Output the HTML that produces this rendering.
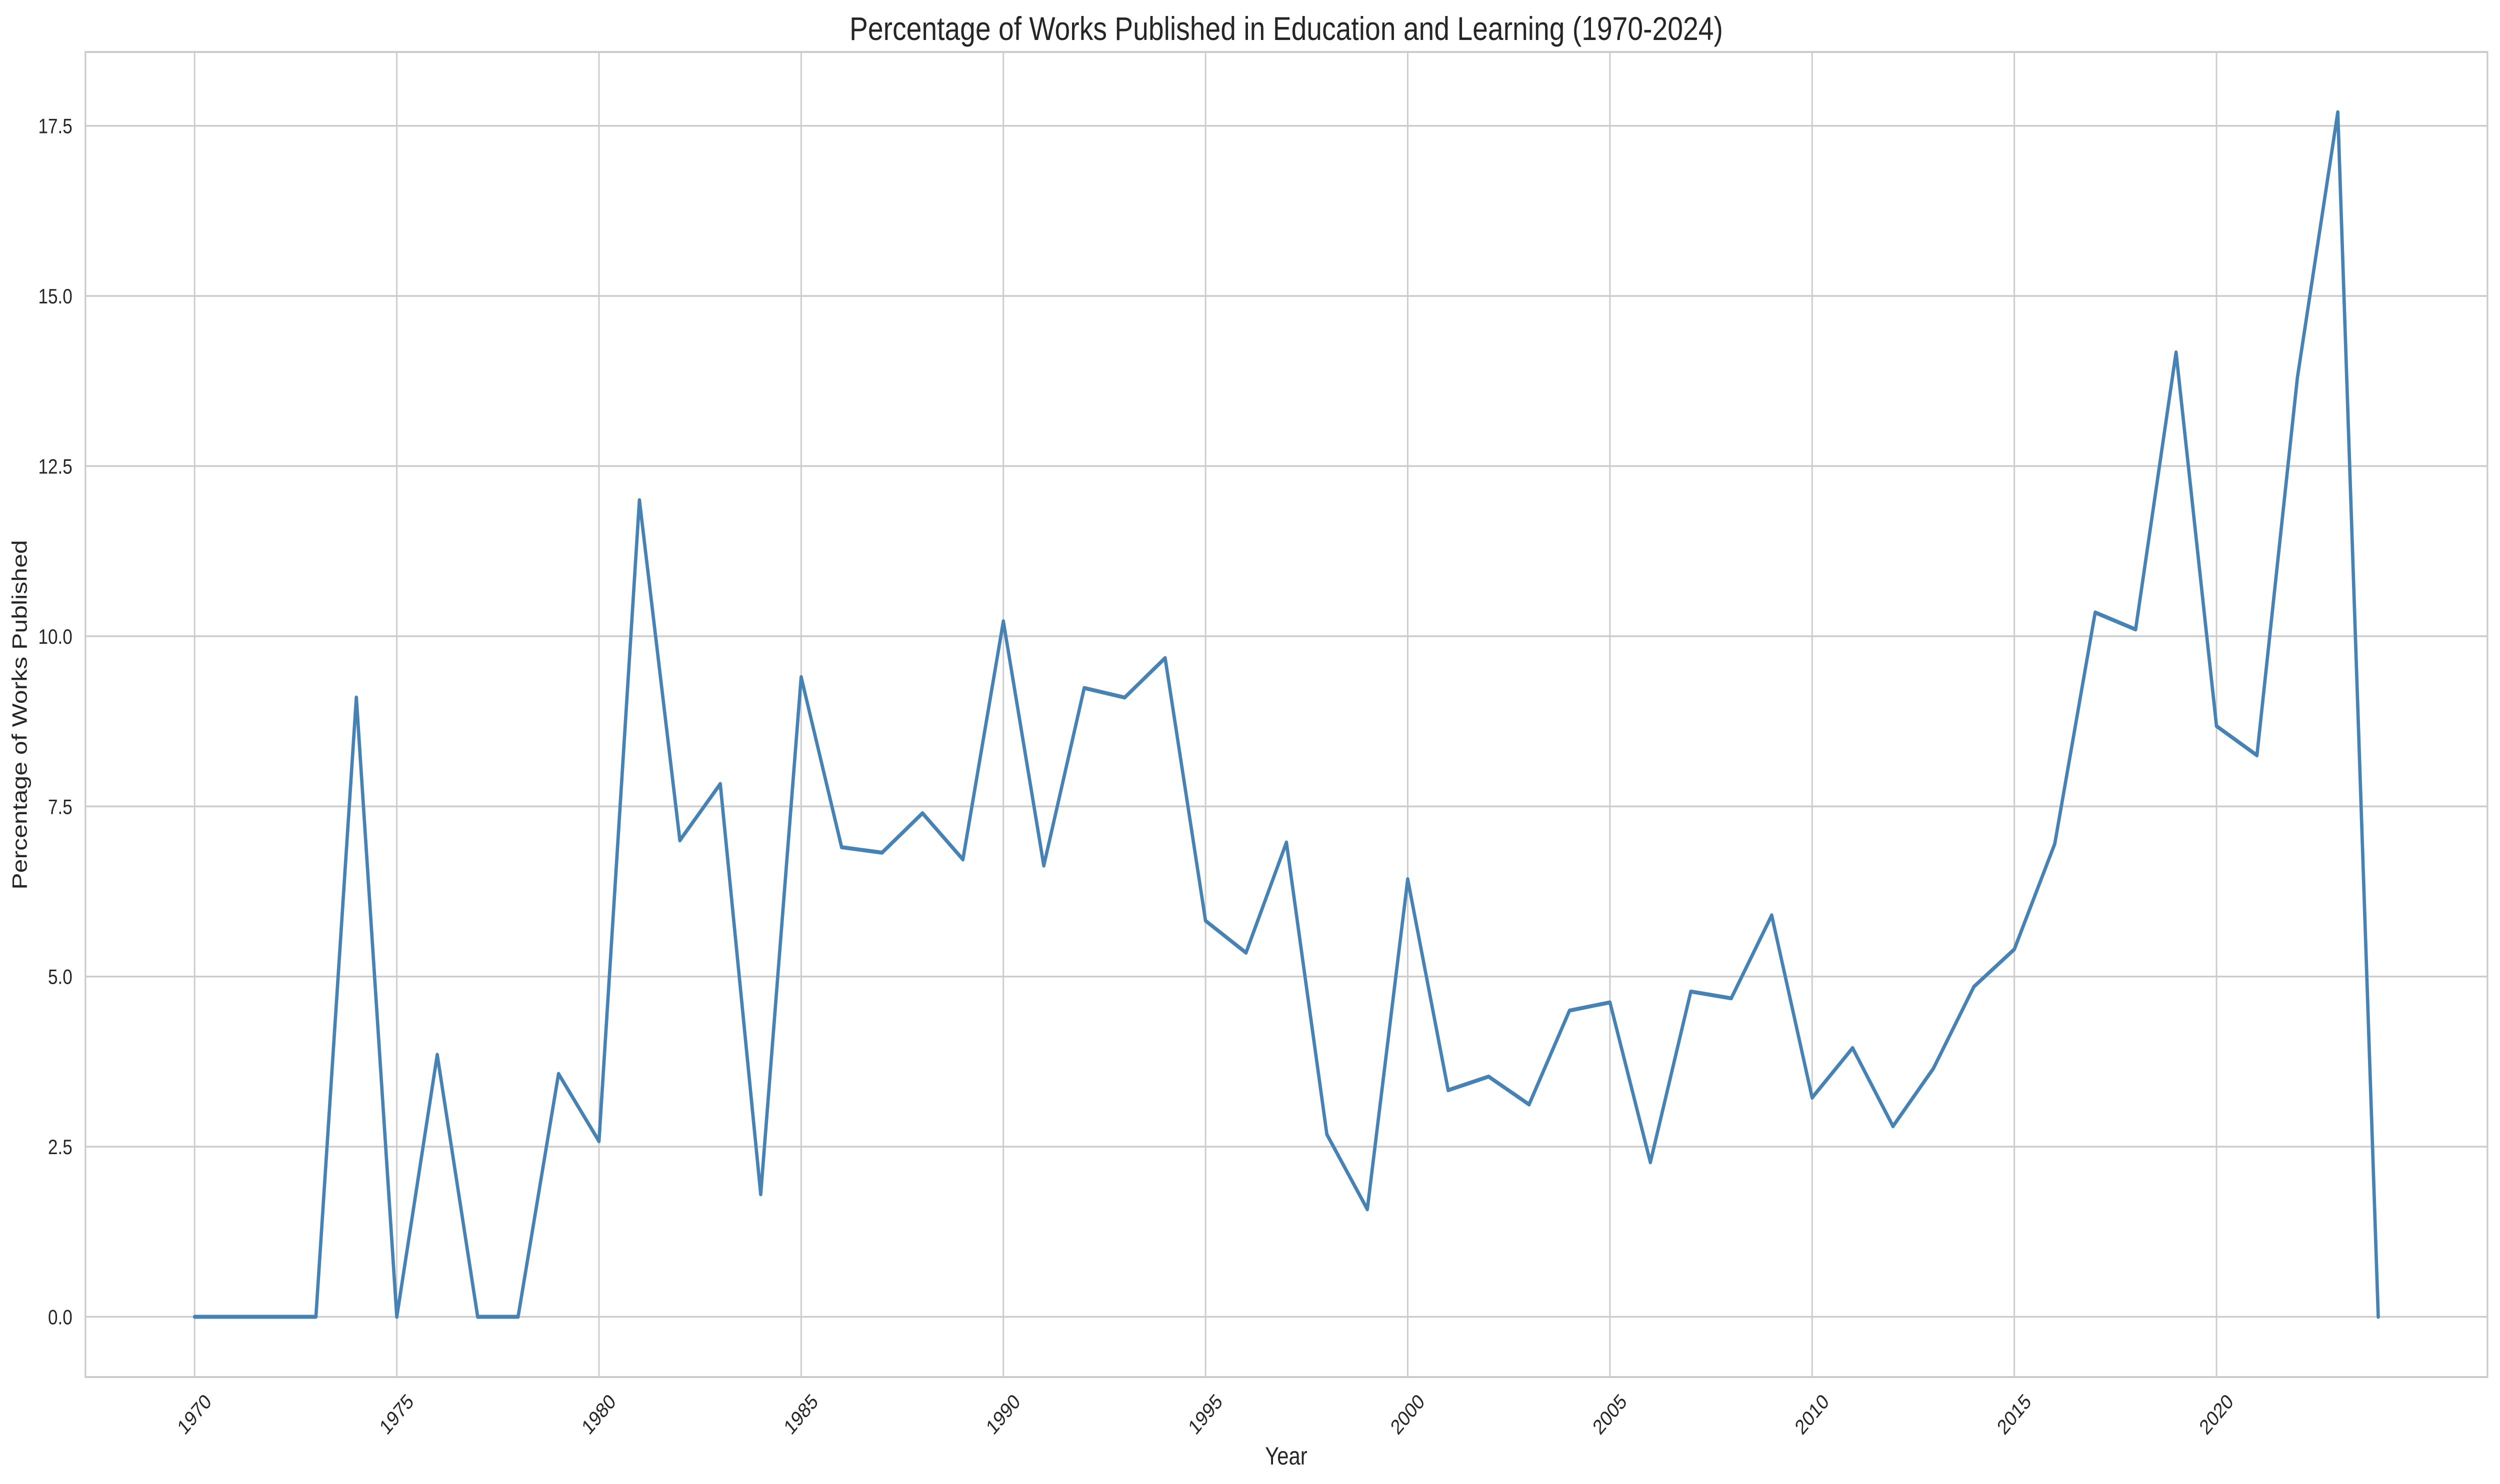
<!DOCTYPE html>
<html>
<head>
<meta charset="utf-8">
<meta name="viewport" content="width=5971, height=2969, initial-scale=1">
<style>
  html, body { margin: 0; padding: 0; background: #ffffff; width: 100%; height: 100%; overflow: hidden; }
  svg { display: block; position: fixed; left: 0; top: 0; width: 100vw; height: 100vh; }
  text { font-family: "Liberation Sans", Arial, sans-serif; fill: #262626; }
</style>
</head>
<body>
<svg id="chart" viewBox="0 0 5971 2969" preserveAspectRatio="none" xmlns="http://www.w3.org/2000/svg">
  <rect x="0" y="0" width="5971" height="2969" fill="#ffffff"/>
  <g id="grid"></g>
  <g id="series"></g>
  <rect x="204" y="104" width="5737" height="2651" fill="none" stroke="#cccccc" stroke-width="4"/>
  <g id="xticks"></g>
  <g id="yticks"></g>
  <text x="3072" y="80" font-size="66" text-anchor="middle">Percentage of Works Published in Education and Learning (1970-2024)</text>
  <text x="3072" y="2930" font-size="50" text-anchor="middle">Year</text>
  <text x="0" y="0" font-size="50" text-anchor="middle" transform="translate(64,1430) rotate(-90)">Percentage of Works Published</text>
</svg>
<script>
const years = [1970,1971,1972,1973,1974,1975,1976,1977,1978,1979,1980,1981,1982,1983,1984,1985,1986,1987,1988,1989,1990,1991,1992,1993,1994,1995,1996,1997,1998,1999,2000,2001,2002,2003,2004,2005,2006,2007,2008,2009,2010,2011,2012,2013,2014,2015,2016,2017,2018,2019,2020,2021,2022,2023,2024];
const percentages = [0,0,0,0,9.1,0,3.85,0,0,3.57,2.58,12.0,7.0,7.83,1.8,9.4,6.9,6.82,7.4,6.72,10.22,6.63,9.24,9.1,9.68,5.82,5.35,6.97,2.68,1.58,6.43,3.33,3.53,3.12,4.5,4.62,2.27,4.78,4.68,5.9,3.22,3.95,2.8,3.65,4.85,5.4,6.95,10.35,10.1,14.17,8.68,8.25,13.8,17.7,0];
const xTickValues = [1970,1975,1980,1985,1990,1995,2000,2005,2010,2015,2020];
const yTickValues = [0,2.5,5,7.5,10,12.5,15,17.5];
const yTickLabels = ["0.0","2.5","5.0","7.5","10.0","12.5","15.0","17.5"];

const NS = "http://www.w3.org/2000/svg";
const plotL = 204, plotR = 5941, plotT = 104, plotB = 2755;
const xMinD = Math.min(...years), xMaxD = Math.max(...years);
const xPad = (xMaxD - xMinD) * 0.05;
const xMin = xMinD - xPad, xMax = xMaxD + xPad;
const yMinD = Math.min(0, ...percentages), yMaxD = Math.max(...percentages);
const yPad = (yMaxD - yMinD) * 0.05;
const yMin = yMinD - yPad, yMax = yMaxD + yPad;
function xScale(v) { return plotL + (v - xMin) / (xMax - xMin) * (plotR - plotL); }
function yScale(v) { return plotB - (v - yMin) / (yMax - yMin) * (plotB - plotT); }

const grid = document.getElementById('grid');
const xt = document.getElementById('xticks');
const yt = document.getElementById('yticks');

xTickValues.forEach(function (v) {
  const x = xScale(v);
  const l = document.createElementNS(NS, 'line');
  l.setAttribute('x1', x); l.setAttribute('x2', x);
  l.setAttribute('y1', plotT); l.setAttribute('y2', plotB);
  l.setAttribute('stroke', '#cccccc'); l.setAttribute('stroke-width', '3.5');
  
  
  grid.appendChild(l);
  const t = document.createElementNS(NS, 'text');
  t.setAttribute('x', 0); t.setAttribute('y', 0);
  t.setAttribute('font-size', '42');
  t.setAttribute('text-anchor', 'middle');
  t.setAttribute('dominant-baseline', 'central');
  t.setAttribute('transform', 'translate(' + x + ',2830) rotate(-45)');
  t.textContent = String(v);
  
  
  xt.appendChild(t);
});

yTickValues.forEach(function (v, i) {
  const y = yScale(v);
  const l = document.createElementNS(NS, 'line');
  l.setAttribute('x1', plotL); l.setAttribute('x2', plotR);
  l.setAttribute('y1', y); l.setAttribute('y2', y);
  l.setAttribute('stroke', '#cccccc'); l.setAttribute('stroke-width', '3.5');
  
  
  grid.appendChild(l);
  const t = document.createElementNS(NS, 'text');
  t.setAttribute('x', 173); t.setAttribute('y', y + 15);
  t.setAttribute('font-size', '42');
  t.setAttribute('text-anchor', 'end');
  t.textContent = yTickLabels[i];
  
  
  yt.appendChild(t);
});

const pts = years.map(function (yr, i) { return xScale(yr).toFixed(1) + ',' + yScale(percentages[i]).toFixed(1); }).join(' ');
const pl = document.createElementNS(NS, 'polyline');
pl.setAttribute('points', pts);
pl.setAttribute('fill', 'none');
pl.setAttribute('stroke', '#4682b4');
pl.setAttribute('stroke-width', '8');
pl.setAttribute('stroke-linejoin', 'round');
pl.setAttribute('stroke-linecap', 'round');


document.getElementById('series').appendChild(pl);
</script>
</body>
</html>
